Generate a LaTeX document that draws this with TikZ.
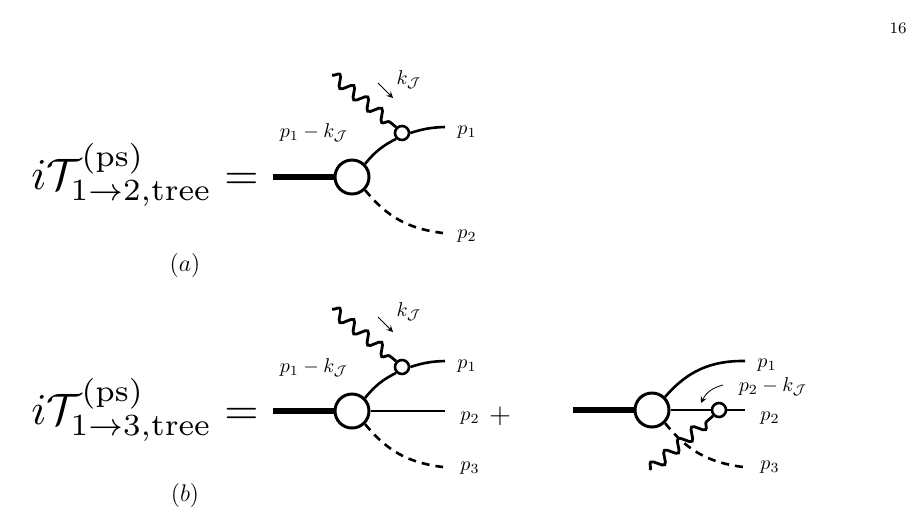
\documentclass[tikz,border=0pt]{standalone}
\usepackage{amsmath}
\usetikzlibrary{decorations.pathmorphing,positioning,calc,arrows}
\tikzset{
  blob/.style={circle, draw, line width=1.5pt, fill=white, minimum size=17pt, inner sep=0pt},
  vtx/.style={circle, draw, line width=1.3pt, fill=white, minimum size=7pt, inner sep=0pt},
  heavy/.style={line width=3pt},
  leg/.style={line width=1.3pt},
  scal/.style={line width=1.3pt, dash pattern=on 4pt off 3pt},
  photon/.style={line width=1.4pt, decorate, decoration={snake, amplitude=2.8pt, segment length=9pt}},
  mom/.style={->, >=stealth, thin},
  lab/.style={inner sep=1pt, font=\normalsize}
}
\begin{document}
\begin{tikzpicture}[x=0.5pt, y=-0.5pt]
\useasboundingbox (0,0) rectangle (920,527);
\node[lab] (page) at (898,28) {\footnotesize 16};

% (a)
\node (eqa) at (145,175) {\scalebox{2.2}{$i\mathcal{T}^{(\mathrm{ps})}_{1\to2,\mathrm{tree}} =$}};
\node[blob] (Ba) at (352,177) {};
\node[vtx] (Va) at (402,133) {};
\coordinate (ina) at (273,177);
\coordinate (p1a) at (445,127);
\coordinate (p2a) at (443,233);
\coordinate (wa) at (332,75);
\draw[heavy] (ina) -- (Ba.west);
\draw[leg] (Ba.north east) to[bend left=12] (Va.south west);
\draw[leg] (Va.east) to[bend left=8] (p1a);
\draw[scal] (Ba.south east) to[bend right=22] (p2a);
\draw[photon] (wa) -- (Va.north west);
\draw[mom] (378,83) -- (393,98);
\node[lab] (ka) at (409,80) {$k_{\mathcal{J}}$};
\node[lab] (qa) at (314,133) {$p_1-k_{\mathcal{J}}$};
\node[lab] (la1) at (467,132) {$p_1$};
\node[lab] (la2) at (467,236) {$p_2$};
\node (capa) at (185,265) {\large $(a)$};

% (b)
\node (eqb) at (145,410) {\scalebox{2.2}{$i\mathcal{T}^{(\mathrm{ps})}_{1\to3,\mathrm{tree}} =$}};
\node[blob] (Bb) at (352,411) {};
\node[vtx] (Vb) at (402,367) {};
\coordinate (inb) at (273,411);
\coordinate (p1b) at (445,361);
\coordinate (p2b) at (445,411);
\coordinate (p3b) at (443,467);
\coordinate (wb) at (332,309);
\draw[heavy] (inb) -- (Bb.west);
\draw[leg] (Bb.north east) to[bend left=12] (Vb.south west);
\draw[leg] (Vb.east) to[bend left=8] (p1b);
\draw[leg] (Bb.east) -- (p2b);
\draw[scal] (Bb.south east) to[bend right=22] (p3b);
\draw[photon] (wb) -- (Vb.north west);
\draw[mom] (378,317) -- (393,332);
\node[lab] (kb) at (409,312) {$k_{\mathcal{J}}$};
\node[lab] (qb) at (314,368) {$p_1-k_{\mathcal{J}}$};
\node[lab] (lb1) at (467,366) {$p_1$};
\node[lab] (lb2) at (470,418) {$p_2$};
\node[lab] (lb3) at (470,468) {$p_3$};
\node (plus) at (500,416) {\Large $+$};

\node[blob] (Bc) at (652,410) {};
\node[vtx] (Vc) at (719,410) {};
\coordinate (inc) at (573,410);
\coordinate (p1c) at (745,361);
\coordinate (p2c) at (745,410);
\coordinate (p3c) at (743,467);
\coordinate (wc) at (650,470);
\draw[heavy] (inc) -- (Bc.west);
\draw[leg] (Bc.north east) to[bend left=25] (p1c);
\draw[leg] (Bc.east) -- (Vc.west);
\draw[leg] (Vc.east) -- (p2c);
\draw[scal] (Bc.south east) to[bend right=22] (p3c);
\draw[photon] (wc) -- (Vc.south west);
\draw[mom] (723,385) to[bend right=25] (701,403);
\node[lab] (qc) at (773,387) {$p_2-k_{\mathcal{J}}$};
\node[lab] (lc1) at (767,365) {$p_1$};
\node[lab] (lc2) at (770,418) {$p_2$};
\node[lab] (lc3) at (770,467) {$p_3$};
\node (capb) at (185,495) {\large $(b)$};
\end{tikzpicture}
\end{document}
